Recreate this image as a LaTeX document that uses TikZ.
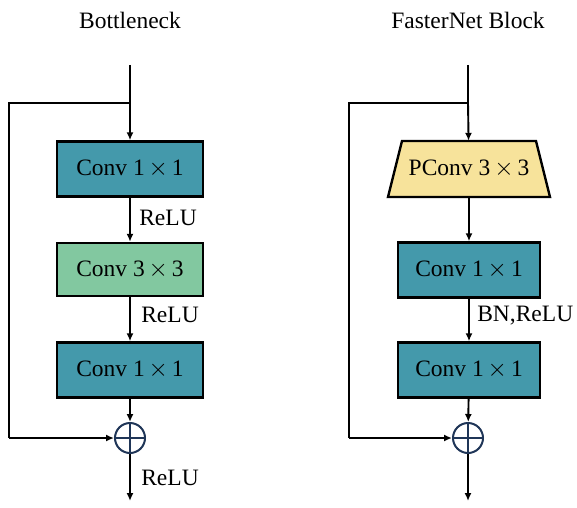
\documentclass[tikz,border=0pt]{standalone}
\usepackage{fontspec}
\setmainfont{Liberation Serif}
\usetikzlibrary{arrows.meta}

\definecolor{convteal}{HTML}{4499AB}
\definecolor{convgreen}{HTML}{82C8A0}
\definecolor{pconvyellow}{HTML}{F7E39B}
\definecolor{addnavy}{HTML}{1F3557}

\begin{document}
\begin{tikzpicture}[
  x=1pt,y=1pt,
  font=\fontsize{23.5}{26}\selectfont,
  layer/.style={rectangle,draw=black,line width=2.4pt,minimum height=55pt,inner sep=0pt},
  pconv/.style={rectangle,minimum width=134pt,minimum height=56pt,inner sep=0pt},
  addop/.style={circle,draw=addnavy,line width=2pt,minimum size=30pt,inner sep=0pt},
  flow/.style={line width=1.9pt,-{Latex[length=8pt,width=7pt]}},
  wire/.style={line width=1.9pt}
]
\useasboundingbox (0,0) rectangle (577,507);

\def\mul{\,$\times$\,}

% Bottleneck
\node (btitle) at (130,487) {Bottleneck};
\coordinate (bin) at (130,442);
\coordinate (bsplit) at (130,404);
\coordinate (bcorner1) at (9,404);
\coordinate (bcorner2) at (9,69);
\node[layer,fill=convteal,minimum width=146pt] (bconva) at (130,338) {Conv 1\mul1};
\node[layer,fill=convgreen,minimum width=146pt,minimum height=53pt] (bconvb) at (130,237.5) {Conv 3\mul3};
\node[layer,fill=convteal,minimum width=146pt] (bconvc) at (130,137) {Conv 1\mul1};
\node[addop] (badd) at (130,69) {};
\coordinate (bout) at (130,6);

\draw[wire] (bin) -- (bsplit);
\draw[flow] (bsplit) -- (bconva);
\draw[flow] (bconva) -- node[right=5pt,pos=0.45] (brelua) {ReLU} (bconvb);
\draw[flow] (bconvb) -- node[right=7pt,pos=0.4] (brelub) {ReLU} (bconvc);
\draw[flow] (bconvc) -- (badd);
\draw[wire] (bsplit) -- (bcorner1) -- (bcorner2);
\draw[flow] (bcorner2) -- (badd);
\draw[wire,addnavy] (badd.north) -- (badd.south) (badd.west) -- (badd.east);
\draw[flow] (badd) -- node[right=7pt,pos=0.5] (breluc) {ReLU} (bout);

% FasterNet block
\node (ftitle) at (468,487) {FasterNet Block};
\coordinate (fin) at (468,442);
\coordinate (fsplit) at (468,404);
\coordinate (fcorner1) at (349,404);
\coordinate (fcorner2) at (349,69);
\coordinate (fpos) at (469,338);
% trapezoid body of PConv
\filldraw[fill=pconvyellow,draw=black,line width=2.4pt,line join=miter]
  ([shift={(-67,28)}]fpos) -- ([shift={(67,28)}]fpos)
  -- ([shift={(81,-28)}]fpos) -- ([shift={(-81,-28)}]fpos) -- cycle;
\node[pconv] (fpconv) at (fpos) {PConv 3\mul3};
\node[layer,fill=convteal,minimum width=142pt] (fconva) at (469,237) {Conv 1\mul1};
\node[layer,fill=convteal,minimum width=142pt] (fconvb) at (469,137) {Conv 1\mul1};
\node[addop] (fadd) at (468,69) {};
\coordinate (fout) at (468,6);

\draw[wire] (fin) -- (fsplit);
\draw[flow] (fsplit) -- (fpconv);
\draw[flow] (fpconv) -- (fconva);
\draw[flow] (fconva) -- node[right=4pt,pos=0.4] (fbnrelu) {BN,ReLU} (fconvb);
\draw[flow] (fconvb) -- (fadd);
\draw[wire] (fsplit) -- (fcorner1) -- (fcorner2);
\draw[flow] (fcorner2) -- (fadd);
\draw[wire,addnavy] (fadd.north) -- (fadd.south) (fadd.west) -- (fadd.east);
\draw[flow] (fadd) -- (fout);

\end{tikzpicture}
\end{document}
